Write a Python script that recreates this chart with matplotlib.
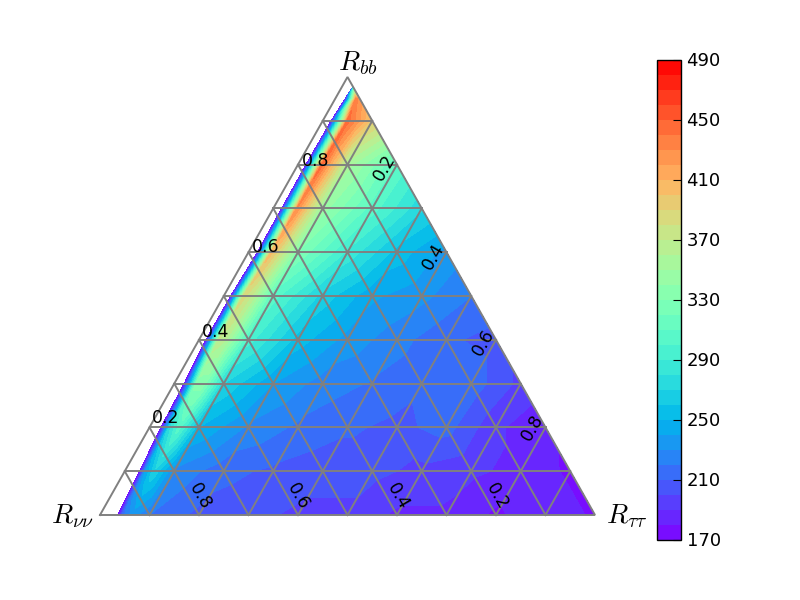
import numpy as np
import matplotlib
matplotlib.use("Agg")
import matplotlib.pyplot as plt
from matplotlib.tri import Triangulation

plt.rcParams['mathtext.fontset'] = 'cm'

# R_bb value of each sampled row
b_rows = [0.0, 0.1, 0.2, 0.3, 0.4, 0.5, 0.6, 0.7, 0.8, 0.9, 0.95, 0.975]

# R_tautau sample positions and the value read at each, one pair per row
tau_b00 = [0.036, 0.045, 0.065, 0.1, 0.2, 0.3, 0.4, 0.5, 0.6, 0.7, 0.8, 0.9, 1.0]
val_b00 = [171, 215, 235, 220, 207, 203, 198, 198, 188, 188, 178, 188, 178]
tau_b01 = [0.030, 0.042, 0.06, 0.1, 0.2, 0.3, 0.4, 0.5, 0.6, 0.7, 0.8, 0.9]
val_b01 = [171, 240, 268, 228, 213, 208, 203, 203, 197, 192, 187, 178]
tau_b02 = [0.023, 0.04, 0.06, 0.1, 0.2, 0.3, 0.4, 0.5, 0.6, 0.7, 0.8]
val_b02 = [171, 275, 305, 250, 228, 218, 212, 207, 214, 192, 182]
tau_b03 = [0.020, 0.045, 0.06, 0.1, 0.2, 0.3, 0.4, 0.5, 0.6, 0.7]
val_b03 = [171, 335, 335, 270, 240, 225, 219, 212, 216, 197]
tau_b04 = [0.014, 0.04, 0.055, 0.1, 0.2, 0.3, 0.4, 0.5, 0.6]
val_b04 = [171, 370, 360, 295, 255, 236, 224, 212, 206]
tau_b05 = [0.014, 0.04, 0.06, 0.1, 0.2, 0.3, 0.4, 0.5]
val_b05 = [171, 385, 365, 305, 266, 242, 233, 220]
tau_b06 = [0.018, 0.046, 0.065, 0.1, 0.2, 0.3, 0.4]
val_b06 = [171, 405, 380, 330, 288, 256, 236]
tau_b07 = [0.017, 0.048, 0.07, 0.1, 0.2, 0.3]
val_b07 = [171, 430, 390, 345, 305, 272]
tau_b08 = [0.016, 0.048, 0.07, 0.1, 0.2]
val_b08 = [171, 445, 405, 355, 308]
tau_b09 = [0.017, 0.05, 0.07, 0.1]
val_b09 = [171, 445, 425, 395]
tau_b095 = [0.020, 0.042, 0.05]
val_b095 = [171, 435, 425]
tau_b0975 = [0.0215, 0.025]
val_b0975 = [171, 310]

tau_rows = [tau_b00, tau_b01, tau_b02, tau_b03, tau_b04, tau_b05,
            tau_b06, tau_b07, tau_b08, tau_b09, tau_b095, tau_b0975]
val_rows = [val_b00, val_b01, val_b02, val_b03, val_b04, val_b05,
            val_b06, val_b07, val_b08, val_b09, val_b095, val_b0975]

levels = list(range(170, 500, 10))
cbar_ticks = list(range(170, 491, 40))
grid_fracs = [0.1, 0.2, 0.3, 0.4, 0.5, 0.6, 0.7, 0.8, 0.9]
tick_fracs = ['0.2', '0.4', '0.6', '0.8']

GRAY = '#808080'
W, H = 800, 600
fig = plt.figure(figsize=(8, 6), dpi=100)
ax = fig.add_axes([100 / W, (H - 515) / H, 495 / W, 438 / H])
ax.set_xlim(0, 1)
ax.set_ylim(0, 1)
ax.axis('off')


def to_xy(tau, b):
    return tau + 0.5 * b, b


# Points and the triangles that join each row to the next one
xs, ys, zs, tris = [], [], [], []
starts = []
for b, taus, vals in zip(b_rows, tau_rows, val_rows):
    starts.append(len(xs))
    for t, v in zip(taus, vals):
        x, y = to_xy(t, b)
        xs.append(x)
        ys.append(y)
        zs.append(v)
for r in range(len(b_rows) - 1):
    ta, tb = tau_rows[r], tau_rows[r + 1]
    i, j = 0, 0
    sa, sb = starts[r], starts[r + 1]
    while i < len(ta) - 1 or j < len(tb) - 1:
        adv_a = j == len(tb) - 1 or (i < len(ta) - 1 and ta[i + 1] <= tb[j + 1])
        if adv_a:
            tris.append([sa + i, sa + i + 1, sb + j])
            i += 1
        else:
            tris.append([sa + i, sb + j + 1, sb + j])
            j += 1

tri = Triangulation(xs, ys, tris)
cs = ax.tricontourf(tri, zs, levels=levels, cmap='rainbow', vmin=170, vmax=490)

# Ternary grid
lw = 1.4
ax.plot([0, 1, 0.5, 0], [0, 0, 1, 0], color=GRAY, lw=lw, clip_on=False, zorder=3,
        solid_joinstyle='miter')
for f in grid_fracs:
    ax.plot([f / 2, 1 - f / 2], [f, f], color=GRAY, lw=lw, clip_on=False, zorder=3)
    ax.plot([f, f / 2], [0, f], color=GRAY, lw=lw, clip_on=False, zorder=3)
    ax.plot([f, (1 + f) / 2], [0, 1 - f], color=GRAY, lw=lw, clip_on=False, zorder=3)


def px_text(px, py, s, **kw):
    fig.text(px / W, 1 - py / H, s, ha='center', va='center', zorder=5, **kw)


left_pos = [(165.5, 418), (215.5, 332), (265.5, 247), (315.5, 161)]
right_pos = [(384, 168), (433, 257), (483, 343), (532, 428)]
bottom_pos = [(497, 496), (398, 496), (298, 496), (200, 496)]
for s, p, q, r in zip(tick_fracs, left_pos, right_pos, bottom_pos):
    px_text(p[0], p[1], s, fontsize=12.5)
    px_text(q[0], q[1], s, fontsize=12.5, rotation=60)
    px_text(r[0], r[1], s, fontsize=12.5, rotation=-60)

px_text(358, 63, r'$R_{bb}$', fontsize=20)
px_text(72, 516, r'$R_{\nu\nu}$', fontsize=20)
px_text(627, 516, r'$R_{\tau\tau}$', fontsize=20)

# Colour bar
cax = fig.add_axes([657 / W, (H - 539.5) / H, 24 / W, 480 / H])
cb = fig.colorbar(cs, cax=cax, ticks=cbar_ticks)
cb.ax.tick_params(direction='in', length=6, width=0.8, labelsize=13, pad=4, color='black')
cb.outline.set_linewidth(1.0)

fig.savefig('out.png', dpi=100)
